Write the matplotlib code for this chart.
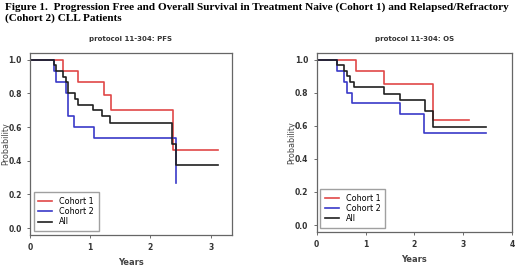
import matplotlib
matplotlib.use('Agg')
import matplotlib.pyplot as plt

# Kaplan-Meier step curves (time in years, survival probability)
# PFS panel
pfs_c1_t = [0, 0.54, 0.80, 1.23, 1.34, 2.37, 3.12]
pfs_c1_s = [1.0, 0.933, 0.867, 0.79, 0.70, 0.467, 0.467]
pfs_c2_t = [0, 0.40, 0.43, 0.60, 0.63, 0.73, 1.06, 2.42, 2.42]
pfs_c2_s = [1.0, 0.933, 0.867, 0.80, 0.667, 0.60, 0.533, 0.267, 0.267]
pfs_all_t = [0, 0.40, 0.43, 0.55, 0.60, 0.63, 0.75, 0.80, 1.05, 1.20, 1.33, 2.35, 2.43, 3.12]
pfs_all_s = [1.0, 0.967, 0.933, 0.90, 0.867, 0.80, 0.767, 0.733, 0.70, 0.667, 0.625, 0.50, 0.375, 0.375]

# OS panel
os_c1_t = [0, 0.81, 1.38, 2.37, 3.12]
os_c1_s = [1.0, 0.933, 0.852, 0.637, 0.637]
os_c2_t = [0, 0.41, 0.55, 0.62, 0.72, 1.70, 2.20, 3.47]
os_c2_s = [1.0, 0.933, 0.866, 0.80, 0.736, 0.669, 0.554, 0.554]
os_all_t = [0, 0.41, 0.55, 0.62, 0.69, 0.76, 1.37, 1.70, 2.21, 2.37, 3.47]
os_all_s = [1.0, 0.967, 0.933, 0.90, 0.867, 0.833, 0.795, 0.757, 0.688, 0.59, 0.59]

labels = ['Cohort 1', 'Cohort 2', 'All']
colors = ['#e04848', '#3a3ac8', '#202020']

fig = plt.figure(figsize=(5.2, 2.79), dpi=100)
fig.text(0.01, 0.99, 'Figure 1.  Progression Free and Overall Survival in Treatment Naive (Cohort 1) and Relapsed/Refractory\n(Cohort 2) CLL Patients',
         family='Liberation Serif', weight='bold', fontsize=8.1, ha='left', va='top', linespacing=1.1)

ax1 = fig.add_axes([0.0577, 0.158, 0.388, 0.652])
ax2 = fig.add_axes([0.609, 0.1695, 0.376, 0.6405])

panels = [
    (ax1, 'protocol 11-304: PFS', [(pfs_c1_t, pfs_c1_s), (pfs_c2_t, pfs_c2_s), (pfs_all_t, pfs_all_s)], (0, 3.35), [0, 1, 2, 3], -0.10),
    (ax2, 'protocol 11-304: OS', [(os_c1_t, os_c1_s), (os_c2_t, os_c2_s), (os_all_t, os_all_s)], (0, 4.0), [0, 1, 2, 3, 4], -0.105),
]

for ax, title, curves, xlim, xticks, ylab_x in panels:
    for (t, s), lab, col in zip(curves, labels, colors):
        ax.step(t, s, where='post', color=col, lw=1.2, label=lab)
    ax.set_xlim(*xlim)
    ax.set_ylim(-0.04, 1.04)
    ax.set_xticks(xticks)
    ax.set_yticks([0.0, 0.2, 0.4, 0.6, 0.8, 1.0])
    ax.set_yticklabels(['0.0', '0.2', '0.4', '0.6', '0.8', '1.0'])
    ax.tick_params(labelsize=5.5, length=2.5, width=0.6, color='#555555', labelcolor='#333333')
    for lbl in ax.get_xticklabels() + ax.get_yticklabels():
        lbl.set_fontweight('bold')
    for sp in ax.spines.values():
        sp.set_color('#666666')
        sp.set_linewidth(0.9)
    ax.set_title(title, fontsize=5, fontweight='bold', color='#333333', pad=9)
    ax.set_xlabel('Years', fontsize=6, fontweight='bold', color='#444444', labelpad=4)
    ax.set_ylabel('Probability', fontsize=5.8, color='#444444')
    ax.yaxis.set_label_coords(ylab_x, 0.5)
    leg = ax.legend(loc='lower left', fontsize=5.8, frameon=True, fancybox=False,
                    handlelength=1.7, borderpad=0.6, labelspacing=0.15, handletextpad=0.85,
                    borderaxespad=0.45)
    leg.get_frame().set_edgecolor('#888888')
    leg.get_frame().set_linewidth(1.0)

fig.savefig('out.png', dpi=100)
